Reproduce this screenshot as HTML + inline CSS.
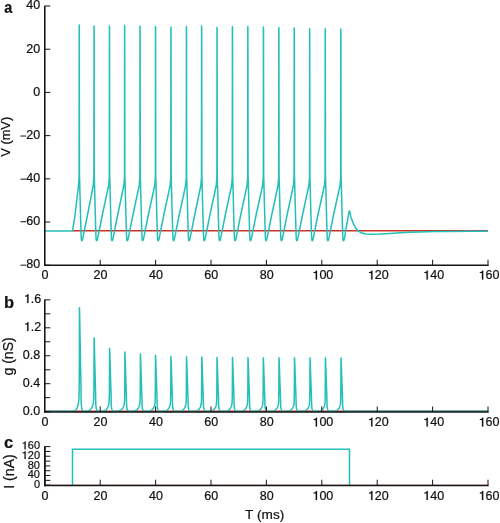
<!DOCTYPE html>
<html><head><meta charset="utf-8"><style>
html,body{margin:0;padding:0;background:#fff;}
body{width:500px;height:523px;overflow:hidden;}
svg{display:block;will-change:transform;}
text{font-family:"Liberation Sans",sans-serif;fill:#111;font-kerning:none;stroke:#111;stroke-width:0.22px;}
</style></head><body>
<svg width="500" height="523" viewBox="0 0 500 523">
<path d="M72.5 230.7 H488" stroke="#cc3327" stroke-width="1.6" fill="none"/>
<path d="M44.8 230.9 L72.5 230.9 L74.5 218.9 L78.5 186 L79.1 177 L79.22 25.1 L79.32 28.1 L79.45 175 L79.75 185 L80.5 215 L81.18 236.8 L81.25 237.99 L81.34 238.97 L81.44 239.73 L81.56 240.27 L81.7 240.59 L81.86 240.7 L82.03 240.59 L82.22 240.27 L82.42 239.73 L82.64 238.97 L82.88 237.99 L83.14 236.8 L87.5 215 L93.25 185.5 L93.9 177 L94.02 25.9 L94.12 28.9 L94.25 175 L94.55 185 L95.3 215 L95.98 236.8 L96.05 237.99 L96.14 238.97 L96.24 239.73 L96.36 240.27 L96.5 240.59 L96.66 240.7 L96.83 240.59 L97.02 240.27 L97.22 239.73 L97.44 238.97 L97.68 237.99 L97.94 236.8 L102.3 215 L108.65 185.5 L109.3 177 L109.42 25.9 L109.52 28.9 L109.65 175 L109.95 185 L110.7 215 L111.38 236.8 L111.45 237.99 L111.54 238.97 L111.64 239.73 L111.76 240.27 L111.9 240.59 L112.06 240.7 L112.23 240.59 L112.42 240.27 L112.62 239.73 L112.84 238.97 L113.08 237.99 L113.34 236.8 L117.7 215 L123.85 185.5 L124.5 177 L124.62 25.5 L124.72 28.5 L124.85 175 L125.15 185 L125.9 215 L126.58 236.8 L126.65 237.99 L126.74 238.97 L126.84 239.73 L126.96 240.27 L127.1 240.59 L127.26 240.7 L127.43 240.59 L127.62 240.27 L127.82 239.73 L128.04 238.97 L128.28 237.99 L128.54 236.8 L132.9 215 L139.25 185.5 L139.9 177 L140.02 26.1 L140.12 29.1 L140.25 175 L140.55 185 L141.3 215 L141.98 236.8 L142.05 237.99 L142.14 238.97 L142.24 239.73 L142.36 240.27 L142.5 240.59 L142.66 240.7 L142.83 240.59 L143.02 240.27 L143.22 239.73 L143.44 238.97 L143.68 237.99 L143.94 236.8 L148.3 215 L154.75 185.5 L155.4 177 L155.52 26.5 L155.62 29.5 L155.75 175 L156.05 185 L156.8 215 L157.48 236.8 L157.55 237.99 L157.64 238.97 L157.74 239.73 L157.86 240.27 L158 240.59 L158.16 240.7 L158.33 240.59 L158.52 240.27 L158.72 239.73 L158.94 238.97 L159.18 237.99 L159.44 236.8 L163.8 215 L170.15 185.5 L170.8 177 L170.92 27.1 L171.02 30.1 L171.15 175 L171.45 185 L172.2 215 L172.88 236.8 L172.95 237.99 L173.04 238.97 L173.14 239.73 L173.26 240.27 L173.4 240.59 L173.56 240.7 L173.73 240.59 L173.92 240.27 L174.12 239.73 L174.34 238.97 L174.58 237.99 L174.84 236.8 L179.2 215 L185.65 185.5 L186.3 177 L186.42 26.5 L186.52 29.5 L186.65 175 L186.95 185 L187.7 215 L188.38 236.8 L188.45 237.99 L188.54 238.97 L188.64 239.73 L188.76 240.27 L188.9 240.59 L189.06 240.7 L189.23 240.59 L189.42 240.27 L189.62 239.73 L189.84 238.97 L190.08 237.99 L190.34 236.8 L194.7 215 L200.85 185.5 L201.5 177 L201.62 25.9 L201.72 28.9 L201.85 175 L202.15 185 L202.9 215 L203.58 236.8 L203.65 237.99 L203.74 238.97 L203.84 239.73 L203.96 240.27 L204.1 240.59 L204.26 240.7 L204.43 240.59 L204.62 240.27 L204.82 239.73 L205.04 238.97 L205.28 237.99 L205.54 236.8 L209.9 215 L216.25 185.5 L216.9 177 L217.02 27.5 L217.12 30.5 L217.25 175 L217.55 185 L218.3 215 L218.98 236.8 L219.05 237.99 L219.14 238.97 L219.24 239.73 L219.36 240.27 L219.5 240.59 L219.66 240.7 L219.83 240.59 L220.02 240.27 L220.22 239.73 L220.44 238.97 L220.68 237.99 L220.94 236.8 L225.3 215 L231.65 185.5 L232.3 177 L232.42 26.7 L232.52 29.7 L232.65 175 L232.95 185 L233.7 215 L234.38 236.8 L234.45 237.99 L234.54 238.97 L234.64 239.73 L234.76 240.27 L234.9 240.59 L235.06 240.7 L235.23 240.59 L235.42 240.27 L235.62 239.73 L235.84 238.97 L236.08 237.99 L236.34 236.8 L240.7 215 L247.05 185.5 L247.7 177 L247.82 26.5 L247.92 29.5 L248.05 175 L248.35 185 L249.1 215 L249.78 236.8 L249.85 237.99 L249.94 238.97 L250.04 239.73 L250.16 240.27 L250.3 240.59 L250.46 240.7 L250.63 240.59 L250.82 240.27 L251.02 239.73 L251.24 238.97 L251.48 237.99 L251.74 236.8 L256.1 215 L262.65 185.5 L263.3 177 L263.42 26.9 L263.52 29.9 L263.65 175 L263.95 185 L264.7 215 L265.38 236.8 L265.45 237.99 L265.54 238.97 L265.64 239.73 L265.76 240.27 L265.9 240.59 L266.06 240.7 L266.23 240.59 L266.42 240.27 L266.62 239.73 L266.84 238.97 L267.08 237.99 L267.34 236.8 L271.7 215 L278.05 185.5 L278.7 177 L278.82 27.5 L278.92 30.5 L279.05 175 L279.35 185 L280.1 215 L280.78 236.8 L280.85 237.99 L280.94 238.97 L281.04 239.73 L281.16 240.27 L281.3 240.59 L281.46 240.7 L281.63 240.59 L281.82 240.27 L282.02 239.73 L282.24 238.97 L282.48 237.99 L282.74 236.8 L287.1 215 L293.45 185.5 L294.1 177 L294.22 27.9 L294.32 30.9 L294.45 175 L294.75 185 L295.5 215 L296.18 236.8 L296.25 237.99 L296.34 238.97 L296.44 239.73 L296.56 240.27 L296.7 240.59 L296.86 240.7 L297.03 240.59 L297.22 240.27 L297.42 239.73 L297.64 238.97 L297.88 237.99 L298.14 236.8 L302.5 215 L308.85 185.5 L309.5 177 L309.62 28.7 L309.72 31.7 L309.85 175 L310.15 185 L310.9 215 L311.58 236.8 L311.65 237.99 L311.74 238.97 L311.84 239.73 L311.96 240.27 L312.1 240.59 L312.26 240.7 L312.43 240.59 L312.62 240.27 L312.82 239.73 L313.04 238.97 L313.28 237.99 L313.54 236.8 L317.9 215 L324.45 185.5 L325.1 177 L325.22 28.7 L325.32 31.7 L325.45 175 L325.75 185 L326.5 215 L327.18 236.8 L327.25 237.99 L327.34 238.97 L327.44 239.73 L327.56 240.27 L327.7 240.59 L327.86 240.7 L328.03 240.59 L328.22 240.27 L328.42 239.73 L328.64 238.97 L328.88 237.99 L329.14 236.8 L333.5 215 L340.05 185.5 L340.7 177 L340.82 29.1 L340.92 32.1 L341.05 175 L341.35 185 L342.1 215 L342.78 236.8 L342.85 237.99 L342.94 238.97 L343.04 239.73 L343.16 240.27 L343.3 240.59 L343.46 240.7 L343.63 240.59 L343.82 240.27 L344.02 239.73 L344.24 238.97 L344.48 237.99 L344.74 236.8 L345.8 230 L349.2 211.2 L349.5 210.8 L351 217.2 L353.2 223.2 L355.8 228.4 L358.4 231 L361.8 233.1 L366 234 L372 234.3 L380 234 L390 233.4 L400 232.8 L410 232.3 L420 231.9 L435 231.6 L450 231.4 L470 231.3 L488 231.2" stroke="#23bfb9" stroke-width="1.5" fill="none" stroke-linejoin="round"/>
<g stroke="#141414" stroke-width="1" fill="none">
<path d="M44.8 6 H50.3"/>
<path d="M44.8 49.21 H50.3"/>
<path d="M44.8 92.42 H50.3"/>
<path d="M44.8 135.63 H50.3"/>
<path d="M44.8 178.84 H50.3"/>
<path d="M44.8 222.04 H50.3"/>
<path d="M44.8 265.25 H50.3"/>
</g>
<text x="26.3" y="9.1" font-size="12.5">40</text>
<text x="26.3" y="52.71" font-size="12.5">20</text>
<text x="33.25" y="95.92" font-size="12.5">0</text>
<text x="26.3" y="139.13" font-size="12.5">20</text>
<rect x="20.5" y="135.53" width="5.6" height="1.0" fill="#111"/>
<text x="26.3" y="182.24" font-size="12.5">40</text>
<rect x="20.5" y="178.64" width="5.6" height="1.0" fill="#111"/>
<text x="26.3" y="224.84" font-size="12.5">60</text>
<rect x="20.5" y="221.24" width="5.6" height="1.0" fill="#111"/>
<text x="26.3" y="268.25" font-size="12.5">80</text>
<rect x="20.5" y="264.65" width="5.6" height="1.0" fill="#111"/>
<path d="M44.8 5.7 V266.02" stroke="#141414" stroke-width="1.55" fill="none"/>
<path d="M44.02 265.25 H488.6" stroke="#141414" stroke-width="1.55" fill="none"/>
<g stroke="#141414" stroke-width="1" fill="none">
<path d="M100.2 265.25 V259.75"/>
<path d="M155.6 265.25 V259.75"/>
<path d="M211 265.25 V259.75"/>
<path d="M266.4 265.25 V259.75"/>
<path d="M321.8 265.25 V259.75"/>
<path d="M377.2 265.25 V259.75"/>
<path d="M432.6 265.25 V259.75"/>
<path d="M488 265.25 V259.75"/>
</g>
<text x="41.62" y="279.45" font-size="12.5">0</text>
<text x="93.55" y="279.45" font-size="12.5">20</text>
<text x="148.95" y="279.45" font-size="12.5">40</text>
<text x="204.35" y="279.45" font-size="12.5">60</text>
<text x="259.75" y="279.45" font-size="12.5">80</text>
<text x="312.47" y="279.45" font-size="12.5"> 00</text><path d="M0.364 0L0.364 -0.703L0.288 -0.703C0.273 -0.65 0.25 -0.615 0.2 -0.6C0.17 -0.592 0.135 -0.588 0.098 -0.588L0.098 -0.522L0.262 -0.522L0.262 0Z" transform="translate(312.47 279.45) scale(12.5)" fill="#111" stroke="#111" stroke-width="0.22" vector-effect="non-scaling-stroke"/>
<text x="367.87" y="279.45" font-size="12.5"> 20</text><path d="M0.364 0L0.364 -0.703L0.288 -0.703C0.273 -0.65 0.25 -0.615 0.2 -0.6C0.17 -0.592 0.135 -0.588 0.098 -0.588L0.098 -0.522L0.262 -0.522L0.262 0Z" transform="translate(367.87 279.45) scale(12.5)" fill="#111" stroke="#111" stroke-width="0.22" vector-effect="non-scaling-stroke"/>
<text x="423.27" y="279.45" font-size="12.5"> 40</text><path d="M0.364 0L0.364 -0.703L0.288 -0.703C0.273 -0.65 0.25 -0.615 0.2 -0.6C0.17 -0.592 0.135 -0.588 0.098 -0.588L0.098 -0.522L0.262 -0.522L0.262 0Z" transform="translate(423.27 279.45) scale(12.5)" fill="#111" stroke="#111" stroke-width="0.22" vector-effect="non-scaling-stroke"/>
<text x="478.67" y="279.45" font-size="12.5"> 60</text><path d="M0.364 0L0.364 -0.703L0.288 -0.703C0.273 -0.65 0.25 -0.615 0.2 -0.6C0.17 -0.592 0.135 -0.588 0.098 -0.588L0.098 -0.522L0.262 -0.522L0.262 0Z" transform="translate(478.67 279.45) scale(12.5)" fill="#111" stroke="#111" stroke-width="0.22" vector-effect="non-scaling-stroke"/>
<path d="M44.8 411.3 H488" stroke="#cc3327" stroke-width="1.5" fill="none"/>
<path d="M44.8 411.35 L69.45 411.33 L70.95 411.3 L72.45 411.21 L73.45 411.07 L74.45 410.79 L75.25 410.39 L75.95 409.79 L76.65 408.84 L77.25 407.56 L77.75 406.01 L78.15 404.33 L78.45 402.71 L78.7 400.95 L78.9 398.73 L79.05 395.26 L79.15 390.32 L79.25 380.09 L79.33 363.76 L79.4 337.77 L79.45 307.7 L79.75 320.14 L80.05 336.72 L80.4 357.45 L80.75 374.04 L80.95 385.44 L81.05 395.8 L81.15 400.99 L81.35 405.13 L81.65 407.41 L81.95 408.86 L82.35 410.21 L82.75 410.94 L83.25 411.35 L84.1 411.29 L85.6 411.21 L87.1 411.04 L88.1 410.82 L89.1 410.45 L89.9 409.98 L90.6 409.37 L91.3 408.49 L91.9 407.43 L92.4 406.25 L92.8 405.05 L93.1 403.96 L93.35 402.82 L93.55 401.38 L93.7 399.06 L93.8 395.68 L93.9 388.6 L93.98 377.2 L94.05 359 L94.1 337.9 L94.4 346.71 L94.7 358.47 L95.05 373.16 L95.4 384.91 L95.6 392.99 L95.7 400.33 L95.8 404 L96 406.94 L96.3 408.56 L96.6 409.59 L97 410.54 L97.4 411.06 L97.9 411.35 L99.6 411.29 L101.1 411.23 L102.6 411.08 L103.6 410.89 L104.6 410.58 L105.4 410.17 L106.1 409.65 L106.8 408.89 L107.4 407.98 L107.9 406.96 L108.3 405.93 L108.6 405 L108.85 404.01 L109.05 402.78 L109.2 400.78 L109.3 397.88 L109.4 391.79 L109.48 381.99 L109.55 366.34 L109.6 348.2 L109.9 355.78 L110.2 365.88 L110.55 378.51 L110.9 388.62 L111.1 395.56 L111.2 401.88 L111.3 405.04 L111.5 407.56 L111.8 408.95 L112.1 409.83 L112.5 410.66 L112.9 411.1 L113.4 411.35 L114.9 411.3 L116.4 411.24 L117.9 411.1 L118.9 410.92 L119.9 410.63 L120.7 410.25 L121.4 409.75 L122.1 409.04 L122.7 408.19 L123.2 407.23 L123.6 406.27 L123.9 405.39 L124.15 404.47 L124.35 403.31 L124.5 401.44 L124.6 398.71 L124.7 393 L124.78 383.8 L124.85 369.12 L124.9 352.1 L125.2 359.21 L125.5 368.69 L125.85 380.54 L126.2 390.02 L126.4 396.54 L126.5 402.46 L126.6 405.43 L126.8 407.8 L127.1 409.1 L127.4 409.93 L127.8 410.7 L128.2 411.11 L128.7 411.35 L130.4 411.3 L131.9 411.24 L133.4 411.11 L134.4 410.94 L135.4 410.65 L136.2 410.28 L136.9 409.8 L137.6 409.12 L138.2 408.29 L138.7 407.37 L139.1 406.43 L139.4 405.58 L139.65 404.69 L139.85 403.56 L140 401.75 L140.1 399.12 L140.2 393.58 L140.28 384.69 L140.35 370.47 L140.4 354 L140.7 360.88 L141 370.06 L141.35 381.53 L141.7 390.7 L141.9 397.01 L142 402.75 L142.1 405.62 L142.3 407.91 L142.6 409.17 L142.9 409.97 L143.3 410.72 L143.7 411.12 L144.2 411.35 L145.5 411.3 L147 411.24 L148.5 411.11 L149.5 410.94 L150.5 410.66 L151.3 410.3 L152 409.84 L152.7 409.16 L153.3 408.35 L153.8 407.45 L154.2 406.53 L154.5 405.7 L154.75 404.83 L154.95 403.73 L155.1 401.95 L155.2 399.37 L155.3 393.96 L155.38 385.24 L155.45 371.33 L155.5 355.2 L155.8 361.94 L156.1 370.92 L156.45 382.15 L156.8 391.14 L157 397.31 L157.1 402.93 L157.2 405.74 L157.4 407.98 L157.7 409.22 L158 410 L158.4 410.73 L158.8 411.13 L159.3 411.35 L160.9 411.3 L162.4 411.24 L163.9 411.11 L164.9 410.95 L165.9 410.68 L166.7 410.32 L167.4 409.87 L168.1 409.21 L168.7 408.41 L169.2 407.53 L169.6 406.63 L169.9 405.81 L170.15 404.96 L170.35 403.88 L170.5 402.14 L170.6 399.61 L170.7 394.3 L170.78 385.76 L170.85 372.11 L170.9 356.3 L171.2 362.91 L171.5 371.71 L171.85 382.72 L172.2 391.53 L172.4 397.59 L172.5 403.09 L172.6 405.85 L172.8 408.05 L173.1 409.26 L173.4 410.03 L173.8 410.74 L174.2 411.13 L174.7 411.35 L176.5 411.3 L178 411.24 L179.5 411.12 L180.5 410.96 L181.5 410.68 L182.3 410.33 L183 409.88 L183.7 409.22 L184.3 408.43 L184.8 407.55 L185.2 406.66 L185.5 405.85 L185.75 405 L185.95 403.93 L186.1 402.21 L186.2 399.69 L186.3 394.42 L186.38 385.94 L186.45 372.4 L186.5 356.7 L186.8 363.26 L187.1 372 L187.45 382.93 L187.8 391.68 L188 397.69 L188.1 403.15 L188.2 405.88 L188.4 408.07 L188.7 409.27 L189 410.04 L189.4 410.75 L189.8 411.13 L190.3 411.35 L191.8 411.3 L193.3 411.24 L194.8 411.12 L195.8 410.96 L196.8 410.69 L197.6 410.34 L198.3 409.89 L199 409.23 L199.6 408.45 L200.1 407.57 L200.5 406.69 L200.8 405.88 L201.05 405.04 L201.25 403.97 L201.4 402.26 L201.5 399.76 L201.6 394.51 L201.68 386.08 L201.75 372.61 L201.8 357 L202.1 363.52 L202.4 372.22 L202.75 383.09 L203.1 391.78 L203.3 397.76 L203.4 403.2 L203.5 405.92 L203.7 408.09 L204 409.28 L204.3 410.05 L204.7 410.75 L205.1 411.13 L205.6 411.35 L207 411.3 L208.5 411.25 L210 411.12 L211 410.96 L212 410.69 L212.8 410.34 L213.5 409.9 L214.2 409.25 L214.8 408.47 L215.3 407.6 L215.7 406.72 L216 405.92 L216.25 405.08 L216.45 404.03 L216.6 402.32 L216.7 399.84 L216.8 394.64 L216.88 386.27 L216.95 372.9 L217 357.4 L217.3 363.87 L217.6 372.51 L217.95 383.3 L218.3 391.93 L218.5 397.86 L218.6 403.26 L218.7 405.96 L218.9 408.11 L219.2 409.3 L219.5 410.06 L219.9 410.76 L220.3 411.13 L220.8 411.35 L222.5 411.3 L224 411.25 L225.5 411.12 L226.5 410.96 L227.5 410.69 L228.3 410.34 L229 409.9 L229.7 409.25 L230.3 408.47 L230.8 407.6 L231.2 406.72 L231.5 405.92 L231.75 405.08 L231.95 404.03 L232.1 402.32 L232.2 399.84 L232.3 394.64 L232.38 386.27 L232.45 372.9 L232.5 357.4 L232.8 363.87 L233.1 372.51 L233.45 383.3 L233.8 391.93 L234 397.86 L234.1 403.26 L234.2 405.96 L234.4 408.11 L234.7 409.3 L235 410.06 L235.4 410.76 L235.8 411.13 L236.3 411.35 L238 411.3 L239.5 411.25 L241 411.12 L242 410.96 L243 410.69 L243.8 410.35 L244.5 409.9 L245.2 409.25 L245.8 408.47 L246.3 407.61 L246.7 406.73 L247 405.93 L247.25 405.09 L247.45 404.04 L247.6 402.34 L247.7 399.86 L247.8 394.67 L247.88 386.31 L247.95 372.97 L248 357.5 L248.3 363.96 L248.6 372.58 L248.95 383.35 L249.3 391.96 L249.5 397.89 L249.6 403.27 L249.7 405.97 L249.9 408.12 L250.2 409.3 L250.5 410.06 L250.9 410.76 L251.3 411.13 L251.8 411.35 L253.3 411.3 L254.8 411.25 L256.3 411.12 L257.3 410.96 L258.3 410.69 L259.1 410.35 L259.8 409.9 L260.5 409.26 L261.1 408.48 L261.6 407.62 L262 406.75 L262.3 405.95 L262.55 405.12 L262.75 404.07 L262.9 402.37 L263 399.91 L263.1 394.73 L263.18 386.41 L263.25 373.11 L263.3 357.7 L263.6 364.14 L263.9 372.72 L264.25 383.45 L264.6 392.04 L264.8 397.94 L264.9 403.3 L265 405.99 L265.2 408.13 L265.5 409.31 L265.8 410.06 L266.2 410.76 L266.6 411.14 L267.1 411.35 L269 411.3 L270.5 411.25 L272 411.12 L273 410.96 L274 410.69 L274.8 410.35 L275.5 409.9 L276.2 409.26 L276.8 408.48 L277.3 407.62 L277.7 406.75 L278 405.95 L278.25 405.12 L278.45 404.07 L278.6 402.37 L278.7 399.91 L278.8 394.73 L278.88 386.41 L278.95 373.11 L279 357.7 L279.3 364.14 L279.6 372.72 L279.95 383.45 L280.3 392.04 L280.5 397.94 L280.6 403.3 L280.7 405.99 L280.9 408.13 L281.2 409.31 L281.5 410.06 L281.9 410.76 L282.3 411.14 L282.8 411.35 L284.5 411.3 L286 411.25 L287.5 411.12 L288.5 410.96 L289.5 410.69 L290.3 410.35 L291 409.9 L291.7 409.26 L292.3 408.48 L292.8 407.62 L293.2 406.75 L293.5 405.95 L293.75 405.12 L293.95 404.07 L294.1 402.37 L294.2 399.91 L294.3 394.73 L294.38 386.41 L294.45 373.11 L294.5 357.7 L294.8 364.14 L295.1 372.72 L295.45 383.45 L295.8 392.04 L296 397.94 L296.1 403.3 L296.2 405.99 L296.4 408.13 L296.7 409.31 L297 410.06 L297.4 410.76 L297.8 411.14 L298.3 411.35 L300 411.3 L301.5 411.25 L303 411.12 L304 410.96 L305 410.7 L305.8 410.35 L306.5 409.91 L307.2 409.27 L307.8 408.5 L308.3 407.64 L308.7 406.77 L309 405.97 L309.25 405.14 L309.45 404.09 L309.6 402.41 L309.7 399.95 L309.8 394.79 L309.88 386.5 L309.95 373.25 L310 357.9 L310.3 364.31 L310.6 372.87 L310.95 383.56 L311.3 392.11 L311.5 397.99 L311.6 403.33 L311.7 406 L311.9 408.14 L312.2 409.32 L312.5 410.07 L312.9 410.76 L313.3 411.14 L313.8 411.35 L315.4 411.3 L316.9 411.25 L318.4 411.12 L319.4 410.96 L320.4 410.69 L321.2 410.35 L321.9 409.9 L322.6 409.26 L323.2 408.48 L323.7 407.62 L324.1 406.75 L324.4 405.95 L324.65 405.12 L324.85 404.07 L325 402.37 L325.1 399.91 L325.2 394.73 L325.28 386.41 L325.35 373.11 L325.4 357.7 L325.7 364.14 L326 372.72 L326.35 383.45 L326.7 392.04 L326.9 397.94 L327 403.3 L327.1 405.99 L327.3 408.13 L327.6 409.31 L327.9 410.06 L328.3 410.76 L328.7 411.14 L329.2 411.35 L331 411.3 L332.5 411.25 L334 411.12 L335 410.96 L336 410.7 L336.8 410.35 L337.5 409.91 L338.2 409.27 L338.8 408.5 L339.3 407.64 L339.7 406.77 L340 405.97 L340.25 405.14 L340.45 404.09 L340.6 402.41 L340.7 399.95 L340.8 394.79 L340.88 386.5 L340.95 373.25 L341 357.9 L341.3 364.31 L341.6 372.87 L341.95 383.56 L342.3 392.11 L342.5 397.99 L342.6 403.33 L342.7 406 L342.9 408.14 L343.2 409.32 L343.5 410.07 L343.9 410.76 L344.3 411.14 L344.8 411.35 L488 411.35" stroke="#23bfb9" stroke-width="1.5" fill="none" stroke-linejoin="round"/>
<g stroke="#141414" stroke-width="1" fill="none">
<path d="M44.8 411.65 H50.3"/>
<path d="M44.8 397.67 H50.3"/>
<path d="M44.8 383.7 H50.3"/>
<path d="M44.8 369.72 H50.3"/>
<path d="M44.8 355.75 H50.3"/>
<path d="M44.8 341.77 H50.3"/>
<path d="M44.8 327.8 H50.3"/>
<path d="M44.8 313.82 H50.3"/>
<path d="M44.8 299.85 H50.3"/>
</g>
<text x="22.82" y="414.85" font-size="12.5">0.0</text>
<text x="22.82" y="386.9" font-size="12.5">0.4</text>
<text x="22.82" y="358.95" font-size="12.5">0.8</text>
<text x="23.92" y="331" font-size="12.5"> .2</text><path d="M0.364 0L0.364 -0.703L0.288 -0.703C0.273 -0.65 0.25 -0.615 0.2 -0.6C0.17 -0.592 0.135 -0.588 0.098 -0.588L0.098 -0.522L0.262 -0.522L0.262 0Z" transform="translate(23.92 331) scale(12.5)" fill="#111" stroke="#111" stroke-width="0.22" vector-effect="non-scaling-stroke"/>
<text x="23.92" y="303.05" font-size="12.5"> .6</text><path d="M0.364 0L0.364 -0.703L0.288 -0.703C0.273 -0.65 0.25 -0.615 0.2 -0.6C0.17 -0.592 0.135 -0.588 0.098 -0.588L0.098 -0.522L0.262 -0.522L0.262 0Z" transform="translate(23.92 303.05) scale(12.5)" fill="#111" stroke="#111" stroke-width="0.22" vector-effect="non-scaling-stroke"/>
<path d="M44.8 299.55 V412.77" stroke="#141414" stroke-width="1.55" fill="none"/>
<path d="M44.02 412 H488.6" stroke="#141414" stroke-width="1.55" fill="none"/>
<g stroke="#141414" stroke-width="1" fill="none">
<path d="M100.2 412 V406.5"/>
<path d="M155.6 412 V406.5"/>
<path d="M211 412 V406.5"/>
<path d="M266.4 412 V406.5"/>
<path d="M321.8 412 V406.5"/>
<path d="M377.2 412 V406.5"/>
<path d="M432.6 412 V406.5"/>
<path d="M488 412 V406.5"/>
</g>
<text x="41.62" y="426.45" font-size="12.5">0</text>
<text x="93.55" y="426.45" font-size="12.5">20</text>
<text x="148.95" y="426.45" font-size="12.5">40</text>
<text x="204.35" y="426.45" font-size="12.5">60</text>
<text x="259.75" y="426.45" font-size="12.5">80</text>
<text x="312.47" y="426.45" font-size="12.5"> 00</text><path d="M0.364 0L0.364 -0.703L0.288 -0.703C0.273 -0.65 0.25 -0.615 0.2 -0.6C0.17 -0.592 0.135 -0.588 0.098 -0.588L0.098 -0.522L0.262 -0.522L0.262 0Z" transform="translate(312.47 426.45) scale(12.5)" fill="#111" stroke="#111" stroke-width="0.22" vector-effect="non-scaling-stroke"/>
<text x="367.87" y="426.45" font-size="12.5"> 20</text><path d="M0.364 0L0.364 -0.703L0.288 -0.703C0.273 -0.65 0.25 -0.615 0.2 -0.6C0.17 -0.592 0.135 -0.588 0.098 -0.588L0.098 -0.522L0.262 -0.522L0.262 0Z" transform="translate(367.87 426.45) scale(12.5)" fill="#111" stroke="#111" stroke-width="0.22" vector-effect="non-scaling-stroke"/>
<text x="423.27" y="426.45" font-size="12.5"> 40</text><path d="M0.364 0L0.364 -0.703L0.288 -0.703C0.273 -0.65 0.25 -0.615 0.2 -0.6C0.17 -0.592 0.135 -0.588 0.098 -0.588L0.098 -0.522L0.262 -0.522L0.262 0Z" transform="translate(423.27 426.45) scale(12.5)" fill="#111" stroke="#111" stroke-width="0.22" vector-effect="non-scaling-stroke"/>
<text x="478.67" y="426.45" font-size="12.5"> 60</text><path d="M0.364 0L0.364 -0.703L0.288 -0.703C0.273 -0.65 0.25 -0.615 0.2 -0.6C0.17 -0.592 0.135 -0.588 0.098 -0.588L0.098 -0.522L0.262 -0.522L0.262 0Z" transform="translate(478.67 426.45) scale(12.5)" fill="#111" stroke="#111" stroke-width="0.22" vector-effect="non-scaling-stroke"/>
<path d="M44.8 485.25 H488" stroke="#cc3327" stroke-width="1" fill="none"/>
<path d="M72.5 485.2 L72.5 449.21 L349.5 449.21 L349.5 485.2" stroke="#23bfb9" stroke-width="1.5" fill="none" stroke-linejoin="miter"/>
<g stroke="#141414" stroke-width="1" fill="none">
<path d="M44.8 485.2 H50.3"/>
<path d="M44.8 480.38 H50.3"/>
<path d="M44.8 475.55 H50.3"/>
<path d="M44.8 470.72 H50.3"/>
<path d="M44.8 465.9 H50.3"/>
<path d="M44.8 461.07 H50.3"/>
<path d="M44.8 456.25 H50.3"/>
<path d="M44.8 451.43 H50.3"/>
<path d="M44.8 446.6 H50.3"/>
</g>
<text x="33.88" y="487.9" font-size="11">0</text>
<text x="27.76" y="478.25" font-size="11">40</text>
<text x="27.76" y="468.6" font-size="11">80</text>
<text x="21.65" y="458.95" font-size="11"> 20</text><path d="M0.364 0L0.364 -0.703L0.288 -0.703C0.273 -0.65 0.25 -0.615 0.2 -0.6C0.17 -0.592 0.135 -0.588 0.098 -0.588L0.098 -0.522L0.262 -0.522L0.262 0Z" transform="translate(21.65 458.95) scale(11)" fill="#111" stroke="#111" stroke-width="0.22" vector-effect="non-scaling-stroke"/>
<text x="21.65" y="449.3" font-size="11"> 60</text><path d="M0.364 0L0.364 -0.703L0.288 -0.703C0.273 -0.65 0.25 -0.615 0.2 -0.6C0.17 -0.592 0.135 -0.588 0.098 -0.588L0.098 -0.522L0.262 -0.522L0.262 0Z" transform="translate(21.65 449.3) scale(11)" fill="#111" stroke="#111" stroke-width="0.22" vector-effect="non-scaling-stroke"/>
<path d="M44.9 446.3 V486.17" stroke="#141414" stroke-width="1.8" fill="none"/>
<path d="M44 485.42 H488.6" stroke="#141414" stroke-width="1.5" fill="none"/>
<g stroke="#141414" stroke-width="1" fill="none">
<path d="M100.2 485.2 V479.7"/>
<path d="M155.6 485.2 V479.7"/>
<path d="M211 485.2 V479.7"/>
<path d="M266.4 485.2 V479.7"/>
<path d="M321.8 485.2 V479.7"/>
<path d="M377.2 485.2 V479.7"/>
<path d="M432.6 485.2 V479.7"/>
<path d="M488 485.2 V479.7"/>
</g>
<text x="41.62" y="499.9" font-size="12.5">0</text>
<text x="93.55" y="499.9" font-size="12.5">20</text>
<text x="148.95" y="499.9" font-size="12.5">40</text>
<text x="204.35" y="499.9" font-size="12.5">60</text>
<text x="259.75" y="499.9" font-size="12.5">80</text>
<text x="312.47" y="499.9" font-size="12.5"> 00</text><path d="M0.364 0L0.364 -0.703L0.288 -0.703C0.273 -0.65 0.25 -0.615 0.2 -0.6C0.17 -0.592 0.135 -0.588 0.098 -0.588L0.098 -0.522L0.262 -0.522L0.262 0Z" transform="translate(312.47 499.9) scale(12.5)" fill="#111" stroke="#111" stroke-width="0.22" vector-effect="non-scaling-stroke"/>
<text x="367.87" y="499.9" font-size="12.5"> 20</text><path d="M0.364 0L0.364 -0.703L0.288 -0.703C0.273 -0.65 0.25 -0.615 0.2 -0.6C0.17 -0.592 0.135 -0.588 0.098 -0.588L0.098 -0.522L0.262 -0.522L0.262 0Z" transform="translate(367.87 499.9) scale(12.5)" fill="#111" stroke="#111" stroke-width="0.22" vector-effect="non-scaling-stroke"/>
<text x="423.27" y="499.9" font-size="12.5"> 40</text><path d="M0.364 0L0.364 -0.703L0.288 -0.703C0.273 -0.65 0.25 -0.615 0.2 -0.6C0.17 -0.592 0.135 -0.588 0.098 -0.588L0.098 -0.522L0.262 -0.522L0.262 0Z" transform="translate(423.27 499.9) scale(12.5)" fill="#111" stroke="#111" stroke-width="0.22" vector-effect="non-scaling-stroke"/>
<text x="478.67" y="499.9" font-size="12.5"> 60</text><path d="M0.364 0L0.364 -0.703L0.288 -0.703C0.273 -0.65 0.25 -0.615 0.2 -0.6C0.17 -0.592 0.135 -0.588 0.098 -0.588L0.098 -0.522L0.262 -0.522L0.262 0Z" transform="translate(478.67 499.9) scale(12.5)" fill="#111" stroke="#111" stroke-width="0.22" vector-effect="non-scaling-stroke"/>
<g>
<text font-size="12.8" transform="translate(10.1 136.75) rotate(-90)" text-anchor="middle">V (mV)</text>
<text font-size="14.1" transform="translate(13.0 356.4) rotate(-90)" text-anchor="middle">g (nS)</text>
<text font-size="14.1" transform="translate(14.4 471.5) rotate(-90)" text-anchor="middle">I (nA)</text>
<text font-size="13.6" x="264.6" y="519.4" text-anchor="middle">T (ms)</text>
</g>
<g font-size="16.5" font-weight="bold">
<text transform="translate(4.3 12.5) scale(0.87 1)">a</text>
<text x="3.9" y="307.5">b</text>
<text x="4.0" y="447.9">c</text>
</g>
</svg></body></html>
